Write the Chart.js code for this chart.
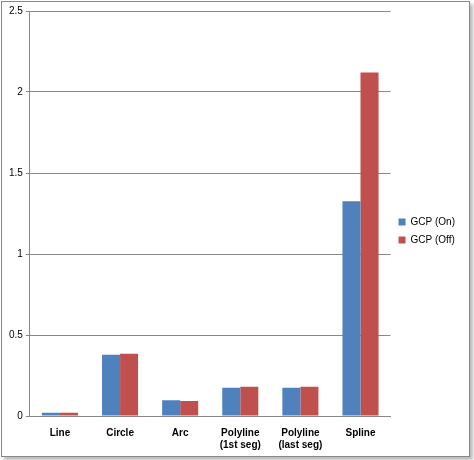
<!DOCTYPE html>
<html><head><script src="https://cdn.jsdelivr.net/npm/chart.js@4/dist/chart.umd.min.js"></script>
<style>body{margin:0;background:#fff}#w{position:absolute;left:1px;top:1px;width:467px;height:454px;border:1px solid #888;box-shadow:3px 3px 3px #bbb;background:#fff}</style></head>
<body><div id="w"><canvas id="c" width="467" height="454"></canvas></div>
<script>
const categories=[["Line"],["Circle"],["Arc"],["Polyline","(1st seg)"],["Polyline","(last seg)"],["Spline"]];
const gcpOn=[0.02,0.378,0.097,0.175,0.175,1.325];
const gcpOff=[0.02,0.385,0.093,0.18,0.18,2.12];
const yTicks=[0,0.5,1,1.5,2,2.5];
new Chart(document.getElementById('c'),{type:'bar',
data:{labels:categories,datasets:[
{label:'GCP (On)',data:gcpOn,backgroundColor:'#4F81BD',categoryPercentage:0.6,barPercentage:1},
{label:'GCP (Off)',data:gcpOff,backgroundColor:'#C0504D',categoryPercentage:0.6,barPercentage:1}]},
options:{responsive:false,animation:false,layout:{padding:{top:6,right:4,left:4,bottom:2}},
plugins:{legend:{position:'right',labels:{boxWidth:7,boxHeight:7,font:{size:10,family:'Liberation Sans'},color:'#000',padding:8}},tooltip:{enabled:false}},
scales:{x:{grid:{display:false},border:{color:'#888'},ticks:{color:'#000',font:{size:10,weight:'bold',family:'Liberation Sans'}}},
y:{min:0,max:2.5,afterBuildTicks:a=>{a.ticks=yTicks.map(v=>({value:v}))},grid:{color:'#888',drawTicks:true,tickLength:4},border:{color:'#888'},
ticks:{color:'#000',font:{size:10,family:'Liberation Sans'},callback:v=>String(v)}}}}});
</script></body></html>
